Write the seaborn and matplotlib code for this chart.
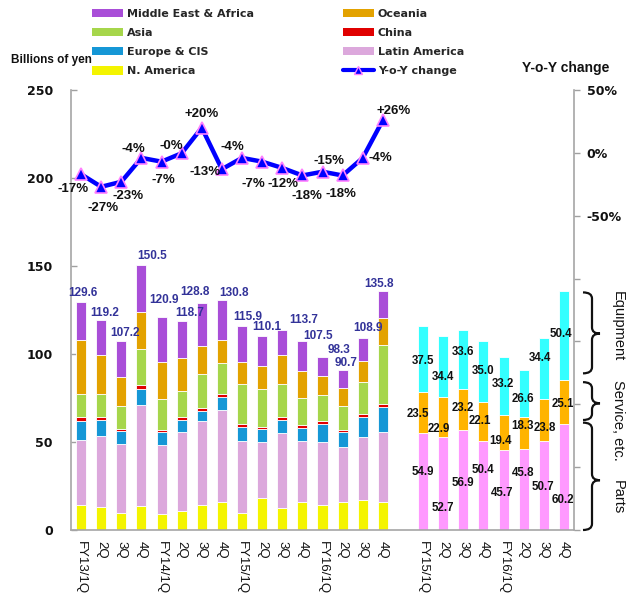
import numpy as np
import pandas as pd
import matplotlib
matplotlib.use("Agg")
import matplotlib.pyplot as plt
import seaborn as sns
from matplotlib import font_manager
from matplotlib.path import Path
from matplotlib.patches import PathPatch, Patch
from matplotlib.lines import Line2D
import matplotlib.transforms as mtransforms

# ---------------- data ----------------
quarters_left = ["FY13/1Q", "2Q", "3Q", "4Q", "FY14/1Q", "2Q", "3Q", "4Q",
                 "FY15/1Q", "2Q", "3Q", "4Q", "FY16/1Q", "2Q", "3Q", "4Q"]
quarters_right = ["FY15/1Q", "2Q", "3Q", "4Q", "FY16/1Q", "2Q", "3Q", "4Q"]

n_america = [14.2, 12.9, 9.5, 13.6, 9.1, 10.8, 14.0, 16.1, 9.5, 18.4, 12.7, 16.1, 14.2, 15.7, 16.8, 16.1]
latin_america = [36.9, 40.7, 39.2, 57.6, 39.0, 44.7, 47.7, 51.9, 41.3, 31.6, 42.2, 34.7, 35.9, 31.7, 36.1, 39.7]
europe_cis = [11.0, 9.1, 7.6, 8.7, 7.6, 7.2, 6.1, 7.8, 7.9, 7.2, 7.6, 7.3, 10.4, 8.4, 11.4, 14.1]
china = [1.9, 1.7, 1.1, 2.3, 1.1, 1.3, 1.3, 1.5, 1.5, 1.5, 1.9, 1.7, 1.7, 1.3, 1.5, 1.6]
asia = [13.1, 12.7, 12.9, 20.8, 17.4, 15.0, 19.5, 17.4, 22.6, 21.2, 18.7, 15.4, 14.4, 13.2, 18.3, 33.8]
oceania = [30.9, 22.3, 16.4, 20.7, 21.4, 18.5, 16.1, 13.3, 12.5, 13.5, 16.1, 15.3, 11.1, 10.4, 11.9, 15.3]
me_africa = [21.6, 19.8, 20.5, 26.8, 25.3, 21.2, 24.1, 22.8, 20.6, 16.7, 14.5, 17.0, 10.6, 10.0, 12.9, 15.2]
totals = [129.6, 119.2, 107.2, 150.5, 120.9, 118.7, 128.8, 130.8, 115.9, 110.1, 113.7, 107.5,
          98.3, 90.7, 108.9, 135.8]
yoy_change = [-17, -27, -23, -4, -7, -0.3, 20, -13, -4, -7, -12, -18, -15, -18, -4, 26]

parts = [54.9, 52.7, 56.9, 50.4, 45.7, 45.8, 50.7, 60.2]
service = [23.5, 22.9, 23.2, 22.1, 19.4, 18.3, 23.8, 25.1]
equipment = [37.5, 34.4, 33.6, 35.0, 33.2, 26.6, 34.4, 50.4]

# ---------------- style ----------------
sns.set_theme(style="white")
avail = {f.name for f in font_manager.fontManager.ttflist}
NARROW = "Liberation Sans Narrow" if "Liberation Sans Narrow" in avail else "Liberation Sans"
ARIAL = "Liberation Sans"
plt.rcParams["font.family"] = ["DejaVu Sans"]

colors = {
    "Middle East & Africa": "#A94ED8",
    "Oceania": "#E3A200",
    "Asia": "#A6D64B",
    "China": "#E00000",
    "Europe & CIS": "#1597D6",
    "Latin America": "#DCA8DC",
    "N. America": "#F4F400",
}
right_colors = {"Equipment": "#33FFFF", "Service, etc.": "#FFB400", "Parts": "#FF99FF"}
stack_order = ["Middle East & Africa", "Oceania", "Asia", "China", "Europe & CIS",
               "Latin America", "N. America"]  # top -> bottom

left_series = {
    "N. America": n_america, "Latin America": latin_america, "Europe & CIS": europe_cis,
    "China": china, "Asia": asia, "Oceania": oceania, "Middle East & Africa": me_africa,
}
right_series = {"Parts": parts, "Service, etc.": service, "Equipment": equipment}

pos_left = np.arange(len(quarters_left))
pos_right = np.arange(len(quarters_right)) + len(quarters_left) + 1

df_left = pd.DataFrame([{"pos": pos_left[i], "region": r, "value": v}
                        for r, vals in left_series.items() for i, v in enumerate(vals)])
df_right = pd.DataFrame([{"pos": pos_right[i], "kind": k, "value": v}
                         for k, vals in right_series.items() for i, v in enumerate(vals)])

W, H = 626, 600
fig = plt.figure(figsize=(W / 100, H / 100), dpi=100)
ax = fig.add_axes([71 / W, 70 / H, 503 / W, 440 / H])

sns.histplot(data=df_left, x="pos", weights="value", hue="region", hue_order=stack_order,
             multiple="stack", discrete=True, shrink=0.5, palette=colors, alpha=1,
             edgecolor="white", linewidth=0.6, legend=False, ax=ax)
sns.histplot(data=df_right, x="pos", weights="value", hue="kind",
             hue_order=["Equipment", "Service, etc.", "Parts"],
             multiple="stack", discrete=True, shrink=0.5, palette=right_colors, alpha=1,
             edgecolor="white", linewidth=0.6, legend=False, ax=ax)

ax.set_xlim(-0.5, len(quarters_left) + len(quarters_right) + 0.5)
ax.set_ylim(0, 250)
ax.set_xlabel("")
ax.set_ylabel("")

all_labels = quarters_left + [""] + quarters_right
ax.set_xticks(np.arange(len(all_labels)))
ax.set_xticklabels(all_labels, rotation=-90, fontsize=9.5, family=ARIAL, color="#111111",
                   ha="center", va="top")
ax.set_xticks(np.arange(len(all_labels) + 1) - 0.5, minor=True)
ax.tick_params(axis="x", which="major", length=0, pad=8)
ax.tick_params(axis="x", which="minor", direction="in", length=4, width=1, color="#A0A0A0")
ax.set_yticks(np.arange(0, 251, 50))
ax.tick_params(axis="y", direction="in", length=4, width=1, color="#A0A0A0", pad=13,
               labelsize=9, left=True)
for t in ax.get_yticklabels():
    t.set_fontweight("bold")
    t.set_color("#111111")
for s in ["top", "right"]:
    ax.spines[s].set_visible(False)
for s in ["left", "bottom"]:
    ax.spines[s].set_color("#A6A6A6")
    ax.spines[s].set_linewidth(1.2)

# totals above left bars
tot_dx = [2, 4, 4, 11, 2, 8, -7, 12, 6, 5, 21, 16, 16, 3, 5, -4]
tot_dy = [9, 7, 8, 9, 17, 8, 11, 7, 9, 9, 10, 5, 7, 7, 10, 7]
for i, t in enumerate(totals):
    ax.annotate(f"{t:.1f}", (pos_left[i], t), xytext=(tot_dx[i], tot_dy[i]),
                textcoords="offset pixels", ha="center", va="center",
                fontsize=8.5, fontweight="bold", family=ARIAL, color="#333399")

# labels inside right bars
lab_dy = {"Parts": [10, -24, -3, 16, -3, 17, -2, -23],
          "Service, etc.": [-1, -12, 1, 1, -9, 7, -8, -2],
          "Equipment": [-2, -10, 7, 1, 2, -5, 11, 2]}
lab_dx = {"Parts": [0, 0, 0, -1, -1, -1, -1, -1],
          "Service, etc.": [-5, -4, -1, -4, -3, -1, 1, -1],
          "Equipment": [0, 0, 0, 0, -1, -1, -4, -3]}
base = np.zeros(len(quarters_right))
for k, vals in right_series.items():
    for i, v in enumerate(vals):
        ax.annotate(f"{v:.1f}", (pos_right[i], base[i] + v / 2),
                    xytext=(lab_dx[k][i], lab_dy[k][i]), textcoords="offset pixels",
                    ha="center", va="center", fontsize=8.3, fontweight="bold",
                    family=ARIAL, color="#111111")
    base += np.array(vals)

# Y-o-Y line on secondary axis
ax2 = ax.twinx()
sns.lineplot(x=pos_left, y=yoy_change, ax=ax2, color="#0000FF", linewidth=3.2,
             marker="^", markersize=9, markeredgecolor="#FF80FF", markeredgewidth=1.2,
             legend=False)
ax2.set_ylim(-300, 50)
ax2.set_ylabel("")
ax2.set_yticks(np.arange(-300, 51, 50))
ax2.set_yticklabels(["" if v not in (50, 0, -50) else f"{v}%" for v in range(-300, 51, 50)])
ax2.tick_params(axis="y", direction="out", length=4, width=1, color="#A0A0A0", pad=5,
                labelsize=9, right=True)
for t in ax2.get_yticklabels():
    t.set_fontweight("bold")
    t.set_color("#111111")
for s in ["top", "left", "bottom"]:
    ax2.spines[s].set_visible(False)
ax2.spines["right"].set_color("#A6A6A6")
ax2.spines["right"].set_linewidth(1.2)

yoy_dx = [-8, 2, 7, -8, 2, -10, 0, -17, -10, -9, 1, 5, 6, -2, 18, 11]
yoy_dy = [-15, -21, -14, 9, -18, 7, 14, -3, 11, -22, -16, -21, 11, -19, 0, 9]
for i, v in enumerate(yoy_change):
    ax2.annotate(f"{v:+.0f}%", (pos_left[i], v), xytext=(yoy_dx[i], yoy_dy[i]),
                 textcoords="offset pixels", ha="center", va="center",
                 fontsize=9.5, fontweight="bold", family=ARIAL, color="#111111")

# braces on the right
btrans = mtransforms.blended_transform_factory(fig.transFigure, ax.transData)


def brace(y_bot, y_top, y_tip, r=3.5):
    x0, x1, x2 = 583 / W, 592 / W, 600 / W
    verts = [(x0, y_top), (x1, y_top), (x1, y_top - r),
             (x1, y_tip + r), (x1, y_tip), (x2, y_tip),
             (x1, y_tip), (x1, y_tip - r),
             (x1, y_bot + r), (x1, y_bot), (x0, y_bot)]
    codes = [Path.MOVETO, Path.CURVE3, Path.CURVE3,
             Path.LINETO, Path.CURVE3, Path.CURVE3,
             Path.CURVE3, Path.CURVE3,
             Path.LINETO, Path.CURVE3, Path.CURVE3]
    p = PathPatch(Path(verts, codes), transform=btrans, fill=False, lw=1.6,
                  edgecolor="#111111", clip_on=False)
    fig.add_artist(p)


brace(89, 135, 111.6)
brace(62.5, 84, 72)
brace(0, 61, 28.3)
for txt, yv in [("Equipment", 115.6), ("Service, etc.", 62.3), ("Parts", 18.7)]:
    fig.text(618 / W, yv, txt, transform=btrans, rotation=270, ha="center", va="center",
             fontsize=10.5, family=ARIAL, color="#111111")

# legend
handles = [Patch(facecolor=colors[r], edgecolor="none") for r in
           ["Middle East & Africa", "Asia", "Europe & CIS", "N. America",
            "Oceania", "China", "Latin America"]]
labels = ["Middle East & Africa", "Asia", "Europe & CIS", "N. America",
          "Oceania", "China", "Latin America", "Y-o-Y change"]
handles.append(Line2D([], [], color="#0000FF", lw=3, marker="^", markersize=6,
                      markeredgecolor="#FF80FF"))
fig.legend(handles, labels, ncol=2, loc="upper left", bbox_to_anchor=(92 / W, 1 - 9 / H),
           frameon=False, prop={"family": "DejaVu Sans", "weight": "bold", "size": 8},
           handlelength=2.8, handleheight=0.75, handletextpad=0.35, columnspacing=8.0,
           labelspacing=0.82, borderpad=0, borderaxespad=0)

fig.text(51 / W, 1 - 60 / H, "Billions of yen", ha="center", va="center",
         fontsize=10.5 if NARROW != ARIAL else 8.5, fontweight="bold", family=NARROW,
         color="#111111")
fig.text(566 / W, 1 - 68 / H, "Y-o-Y change", ha="center", va="center",
         fontsize=10, fontweight="bold", family=ARIAL, color="#111111")

fig.savefig("out.png", dpi=100)
